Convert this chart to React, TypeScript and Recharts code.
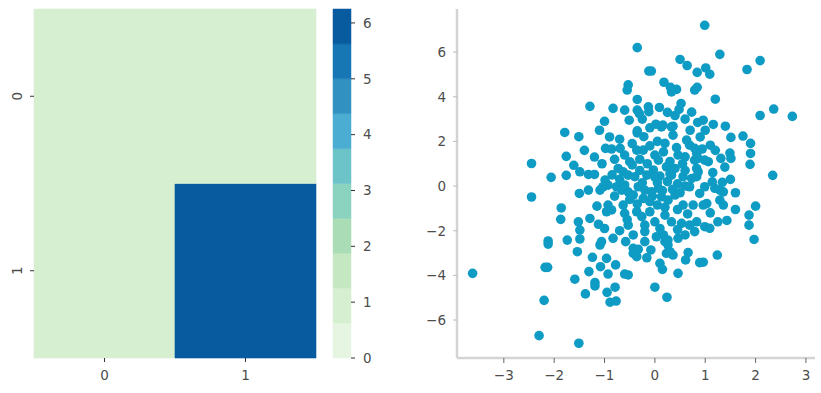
import React from "react";
import { BarChart, Bar, Cell, XAxis, YAxis, ScatterChart, Scatter } from "recharts";

// ---------- Heatmap data ----------
const heatRows = ["0", "1"];
const heatCols = ["0", "1"];
const heatValues = [
  [1, 1],
  [1, 6.25],
];
const cbarMax = 6.25;
const cbarTicks = [0, 1, 2, 3, 4, 5, 6];
const binColors = [
  "#e6f5e1", "#d7efd1", "#c5e8c2", "#aadcb6", "#8bd2bf",
  "#6cc3c8", "#4cadd2", "#3192c2", "#1777b5", "#095ba0",
];

// ---------- Scatter data ----------
const scatterXs = [
  -0.35, 0.5, 0.64, 0.84, -0.12, -0.07, 0.18, 0.31, 0.43, 0.33, -0.53, -0.55, 0.79, 0.84, -0.35, -1.29, -0.83, -0.35, -0.31, -0.13,
  -0.12, 0.09, 0.52, 0.48, 0.4, 0.73, 0.85, -1.0, -0.51, -0.35, 0.02, 0.16, 0.36, 0.99, 1.29, 2.09, 1.83, 1.01, 1.09, 1.2,
  2.36, 2.09, 2.73, 0.96, 1.16, 1.4, 1.51, 1.75, 1.9, 1.9, 1.89, 2.34, 1.1, 1.49, 1.51, 1.31, 1.39, 2.0, 1.87, 1.87,
  1.97, 1.43, 0.96, 1.24, -1.79, -1.51, -2.45, -1.76, -1.61, -2.06, -1.76, -1.49, -2.45, -1.5, -1.86, -1.87, -1.52, -1.49, -2.12, -2.12,
  -1.74, -1.49, -1.54, -3.62, -2.18, -2.13, -1.59, -2.2, -2.3, -1.51, -1.38, -1.31, -1.24, -1.09, -1.08, -0.96, -0.93, -1.19, -1.19, -0.95,
  -0.78, -0.79, -0.89, -0.77, -0.6, -0.53, -0.58, -0.43, -0.4, -0.33, -0.36, -0.43, -0.2, -0.08, -0.16, 0.0, 0.1, 0.15, 0.24, 0.2,
  0.26, 0.23, 0.36, 0.3, 0.46, 0.61, 0.66, 0.89, -0.98, -0.86, -0.69, -0.35, -0.22, -0.1, 0.13, 0.33, 0.36, 0.63, 0.69, 0.79,
  0.2, 0.17, 0.43, 0.46, 0.6, -0.36, -0.23, -0.6, -0.5, 0.0, 0.07, -1.32, -1.2, -0.99, -0.93, -1.03, -0.76, -0.66, -1.32, -1.09,
  -0.73, -0.63, -0.53, -0.4, -0.16, -0.03, 0.23, 0.4, 0.33, 0.56, 0.73, 0.69, 0.79, 0.83, -0.33, -0.2, -0.07, 0.07, -0.53, -0.43,
  -0.23, -0.1, 0.13, 0.26, 0.4, 0.56, 0.76, -0.93, -0.86, -0.96, -0.63, -0.6, -0.36, -0.26, -0.1, 0.0, 0.2, 0.33, 0.53, 0.69,
  0.79, -1.29, -1.12, -0.83, -1.06, -0.53, -0.43, -0.2, 0.03, 0.17, 0.26, 0.46, 0.6, 0.94, 0.83, 0.86, 0.99, 1.06, 0.86, 0.83,
  1.14, 1.34, 0.99, 1.19, 1.29, 1.36, 0.89, 1.29, 1.36, 1.03, 0.96, 0.83, 0.99, 1.09,
  -0.8, -0.7, -0.45, -0.3, -0.15, 0.1, 0.25, 0.45, 0.6, -0.6, -0.85, -0.25, 0.05, 0.15, 0.35, 0.5, 0.6, 0.3, 0.55, -0.1,
  0.05, -0.45, -0.7, -0.9, -0.5, -0.8, -0.35, 0.05, 0.2, 0.45, 0.65, -0.55, -0.2, 0.1, 0.45, -0.7, -1.0, -1.15, -1.2, -1.05,
  0.9, 1.0, 0.7, 1.2, 1.15, 1.5, 1.6, 1.1, 1.25, 1.6, -0.25, 0.6, 0.25, -0.6, -1.1, -1.4, 0.0, -0.05, 0.3, -0.3,
];
const scatterYs = [
  6.2, 5.67, 5.4, 5.09, 5.15, 5.15, 4.65, 4.42, 4.33, 4.22, 4.53, 4.3, 4.3, 4.42, 3.88, 3.57, 3.48, 3.4, 3.25, 3.55,
  3.33, 3.52, 3.7, 3.43, 3.16, 3.31, 2.85, 2.9, 2.95, 2.47, 2.77, 2.73, 2.68, 7.2, 5.9, 5.62, 5.22, 5.29, 5.01, 3.89,
  3.45, 3.16, 3.12, 2.95, 2.76, 2.68, 2.18, 2.24, 1.91, 1.46, 0.97, 0.48, 1.83, 1.48, 1.24, 1.24, 0.85, -0.9, -1.3, -1.75,
  -2.39, -1.54, -3.41, -3.09, 2.4, 2.21, 1.01, 1.33, 0.93, 0.39, 0.48, 0.64, -0.49, -0.33, -0.98, -1.49, -1.6, -1.97, -2.46, -2.6,
  -2.42, -2.37, -2.94, -3.91, -3.64, -3.64, -4.17, -5.12, -6.7, -7.04, -4.83, -3.83, -3.19, -2.64, -3.61, -3.24, -3.94, -4.32, -4.47, -4.76,
  -3.53, -4.53, -5.2, -5.15, -3.94, -3.98, -2.49, -2.79, -2.94, -2.83, -3.16, -3.01, -2.49, -2.86, -3.21, -4.53, -3.46, -3.73, -4.98, -2.49,
  -2.64, -3.01, -3.09, -2.94, -3.91, -3.31, -2.98, -3.43, 1.69, 1.66, 1.69, 2.38, 2.21, 2.61, 2.65, 2.65, 2.28, 2.06, 1.83, 1.69,
  1.91, 1.53, 1.72, 1.39, 1.31, 1.61, 1.61, 1.39, 1.09, 1.39, 1.16, 0.52, 0.52, 0.27, 0.04, -0.03, -0.03, -0.18, -0.18, -0.18,
  0.79, 0.64, 0.49, 0.42, 0.49, 0.72, 0.86, 0.79, 0.49, 0.42, 0.34, -0.03, 1.16, 0.79, -0.03, -0.18, -0.26, -0.1, -0.26, -0.4,
  -0.55, -0.7, -0.48, -0.63, -0.4, -0.85, -0.85, -0.85, -1.07, -1.15, -0.85, -1.22, -1.15, -1.37, -1.15, -1.6, -1.3, -1.6, -1.67, -1.75,
  -2.04, -1.45, -1.71, -2.34, -2.49, -1.75, -2.19, -2.04, -2.27, -2.19, -2.42, -2.34, -2.19, 1.66, 1.46, 1.24, 1.16, 1.09, 0.64, 0.42,
  0.19, 0.17, -0.03, -0.1, -0.18, -0.26, -0.33, -0.63, -0.85, -0.78, -0.85, -1.6, -1.82, -1.89,
  1.2, 0.3, 0.95, 1.2, 1.0, 0.45, 0.2, 0.1, 0.0, 0.05, 0.5, 0.15, 0.15, -0.2, -0.15, -0.3, 0.7, 1.1, 1.0, 1.8,
  2.0, 1.9, 2.1, 2.2, -0.6, -0.45, -0.8, -0.85, -0.95, -1.05, -1.25, -1.5, -1.75, -1.9, -1.95, -2.0, -1.9, -0.9, 1.3, 1.0,
  2.2, 2.5, 2.5, 1.6, 0.6, 0.3, -0.3, -1.2, -1.6, -1.05, 3.0, 3.0, 3.3, 3.4, 2.5, 1.6, 0.4, -0.45, 0.55, 0.7,
];
const scatterXTicks = [-3, -2, -1, 0, 1, 2, 3];
const scatterYTicks = [-6, -4, -2, 0, 2, 4, 6];
const scatterXDomain = [-3.93, 3.18];
const scatterYDomain = [-7.7, 7.93];

// ---------- Styling ----------
const FONT = "DejaVu Sans";
const FS = 13.5;
const TEXT = "#4d4d4d";
const DOT = "#0e9bc4";
const SPINE = "#d4d4d4";

const colorFor = (v: number) => {
  const idx = Math.min(binColors.length - 1, Math.max(0, Math.floor((v / cbarMax) * binColors.length)));
  return binColors[idx];
};

const fmt = (v: number) => (v < 0 ? "\u2212" + Math.abs(v) : String(v));

const heatTable = heatCols.map((c) => {
  const row: any = { col: c };
  heatRows.forEach((_, i) => {
    row["r" + i] = 1;
  });
  return row;
});

const cbarTable = [
  binColors.reduce((acc: any, _c, i) => {
    acc["b" + i] = cbarMax / binColors.length;
    return acc;
  }, { k: "c" }),
];

const scatterData = scatterXs.map((x, i) => ({ x, y: scatterYs[i] }));

const HeatYTick = (props: any) => {
  const { y, payload } = props;
  const label = payload.value > 1 ? heatRows[0] : heatRows[1];
  const tx = 16.5;
  return (
    <g>
      <line x1={30} x2={34} y1={y} y2={y} stroke="#333" strokeWidth={1} />
      <text
        x={tx}
        y={y}
        transform={`rotate(-90, ${tx}, ${y})`}
        textAnchor="middle"
        dominantBaseline="central"
        fill={TEXT}
        fontSize={FS}
        fontFamily={FONT}
      >
        {label}
      </text>
    </g>
  );
};

const DotShape = (props: any) => <circle cx={props.cx} cy={props.cy} r={4.8} fill={DOT} />;

export default function App() {
  return (
    <div style={{ position: "absolute", left: 0, top: 0, width: 821, height: 393, background: "#fff" }}>
      {/* Heatmap */}
      <div style={{ position: "absolute", left: 0, top: 0 }}>
        <BarChart
          width={330}
          height={393}
          data={heatTable}
          margin={{ top: 9, right: 14, bottom: 0, left: 0 }}
          barCategoryGap={0}
          barGap={0}
        >
          <XAxis
            dataKey="col"
            height={35}
            axisLine={false}
            tickSize={4}
            tickLine={{ stroke: "#333" }}
            tickMargin={8}
            tick={{ fill: TEXT, fontSize: FS, fontFamily: FONT }}
          />
          <YAxis
            type="number"
            domain={[0, heatRows.length]}
            ticks={[0.5, 1.5]}
            width={34}
            axisLine={false}
            tickLine={false}
            tick={<HeatYTick />}
          />
          {heatRows
            .map((_, i) => i)
            .reverse()
            .map((i) => (
              <Bar key={i} dataKey={"r" + i} stackId="h" isAnimationActive={false}>
                {heatCols.map((_, j) => (
                  <Cell
                    key={j}
                    fill={colorFor(heatValues[i][j])}
                    stroke={colorFor(heatValues[i][j])}
                    strokeWidth={0.6}
                  />
                ))}
              </Bar>
            ))}
        </BarChart>
      </div>

      {/* Colorbar */}
      <div style={{ position: "absolute", left: 320, top: 0 }}>
        <BarChart
          width={80}
          height={393}
          data={cbarTable}
          margin={{ top: 9, right: 0, bottom: 35, left: 13 }}
          barCategoryGap={0}
          barGap={0}
        >
          <XAxis dataKey="k" hide />
          <YAxis
            type="number"
            orientation="right"
            domain={[0, cbarMax]}
            ticks={cbarTicks}
            width={49}
            axisLine={false}
            tickSize={4}
            tickLine={{ stroke: "#333" }}
            tickMargin={8}
            tick={{ fill: TEXT, fontSize: FS, fontFamily: FONT }}
          />
          {binColors.map((c, i) => (
            <Bar key={i} dataKey={"b" + i} stackId="cb" fill={c} stroke={c} strokeWidth={0.5} isAnimationActive={false} />
          ))}
        </BarChart>
      </div>

      {/* Scatter */}
      <div style={{ position: "absolute", left: 410, top: 0 }}>
        <ScatterChart width={411} height={393} margin={{ top: 9, right: 6, bottom: 0, left: 0 }}>
          <XAxis
            type="number"
            dataKey="x"
            domain={scatterXDomain}
            ticks={scatterXTicks}
            allowDataOverflow
            height={35}
            axisLine={{ stroke: SPINE, strokeWidth: 2.5 }}
            tickSize={5}
            tickLine={{ stroke: "#666" }}
            tickMargin={7}
            tickFormatter={fmt}
            tick={{ fill: TEXT, fontSize: FS, fontFamily: FONT }}
          />
          <YAxis
            type="number"
            dataKey="y"
            domain={scatterYDomain}
            ticks={scatterYTicks}
            allowDataOverflow
            width={47}
            axisLine={{ stroke: SPINE, strokeWidth: 2.5 }}
            tickSize={4}
            tickLine={{ stroke: "#bbb" }}
            tickMargin={7}
            tickFormatter={fmt}
            tick={{ fill: TEXT, fontSize: FS, fontFamily: FONT }}
          />
          <Scatter data={scatterData} shape={<DotShape />} isAnimationActive={false} />
        </ScatterChart>
      </div>
    </div>
  );
}
